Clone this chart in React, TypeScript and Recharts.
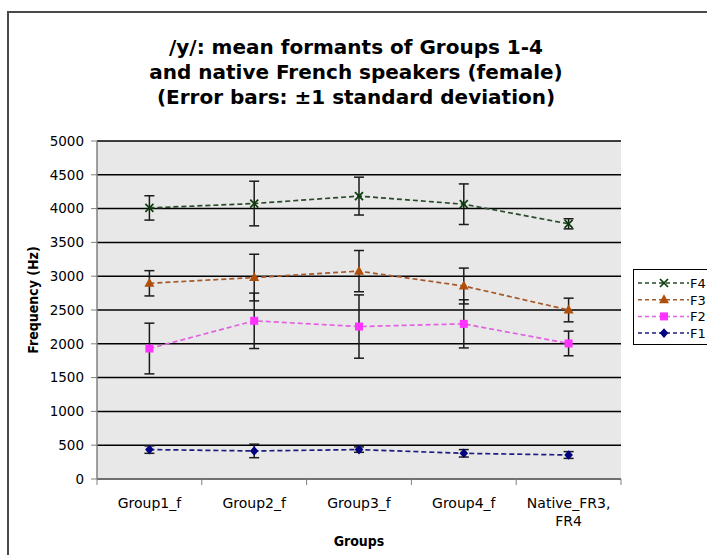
import { LineChart, Line, XAxis, YAxis, CartesianGrid, ErrorBar } from 'recharts';

// groups on the x axis
const groups = ['Group1_f', 'Group2_f', 'Group3_f', 'Group4_f', 'Native_FR3, FR4'];

// mean formant values (Hz) and standard deviations
const f4 = [4010, 4075, 4185, 4065, 3775];
const f4Sd = [180, 330, 280, 300, 75];
const f3 = [2895, 2980, 3075, 2855, 2500];
const f3Sd = [187, 345, 305, 265, 175];
const f2 = [1930, 2340, 2255, 2295, 2005];
const f2Sd = [375, 410, 468, 356, 182];
const f1 = [435, 415, 435, 380, 355];
const f1Sd = [55, 100, 40, 55, 50];

const yTicks = [0, 500, 1000, 1500, 2000, 2500, 3000, 3500, 4000, 4500, 5000];

const data = groups.map((g, i) => ({
  group: g,
  f4: f4[i], f4Sd: f4Sd[i],
  f3: f3[i], f3Sd: f3Sd[i],
  f2: f2[i], f2Sd: f2Sd[i],
  f1: f1[i], f1Sd: f1Sd[i],
}));

const W = 707;
const H = 555;
const PLOT_LEFT = 97;
const PLOT_RIGHT = 621;
const PLOT_TOP = 141;
const PLOT_BOTTOM = 479;
const HALF_BAND = (PLOT_RIGHT - PLOT_LEFT) / groups.length / 2;

const FONT = "'DejaVu Sans', Verdana, sans-serif";
const COND_FONT = "'DejaVu Sans Condensed', 'DejaVu Sans', sans-serif";

const series = [
  { key: 'f4', name: 'F4', line: '#2a4a2a', mark: '#0b3d0b', shape: 'x' },
  { key: 'f3', name: 'F3', line: '#a5582a', mark: '#b04f0a', shape: 'tri' },
  { key: 'f2', name: 'F2', line: '#e062e0', mark: '#ff33ff', shape: 'sq' },
  { key: 'f1', name: 'F1', line: '#1c1c80', mark: '#000080', shape: 'dia' },
];

function Marker({ cx, cy, shape, color }: { cx: number; cy: number; shape: string; color: string }) {
  if (shape === 'x') {
    return (
      <g stroke={color} strokeWidth={1.7}>
        <line x1={cx - 4} y1={cy - 4} x2={cx + 4} y2={cy + 4} />
        <line x1={cx - 4} y1={cy + 4} x2={cx + 4} y2={cy - 4} />
      </g>
    );
  }
  if (shape === 'tri') {
    return <polygon points={`${cx},${cy - 5.5} ${cx + 5},${cy + 3.5} ${cx - 5},${cy + 3.5}`} fill={color} />;
  }
  if (shape === 'sq') {
    return <rect x={cx - 4} y={cy - 4} width={8} height={8} fill={color} />;
  }
  return <polygon points={`${cx},${cy - 4.8} ${cx + 4.3},${cy} ${cx},${cy + 4.8} ${cx - 4.3},${cy}`} fill={color} />;
}

function GroupTick(props: any) {
  const { x, payload, index } = props;
  const lines = String(payload.value).split(/(?<=,)\s/);
  return (
    <g>
      <line x1={x - HALF_BAND} x2={x - HALF_BAND} y1={PLOT_BOTTOM} y2={PLOT_BOTTOM + 6} stroke="#808080" />
      {index === groups.length - 1 && (
        <line x1={x + HALF_BAND} x2={x + HALF_BAND} y1={PLOT_BOTTOM} y2={PLOT_BOTTOM + 6} stroke="#808080" />
      )}
      <text x={x} y={508} textAnchor="middle" fontSize={14} fontFamily={FONT} fill="#000">
        {lines.map((l, i) => (
          <tspan key={i} x={x} dy={i === 0 ? 0 : 18}>{l}</tspan>
        ))}
      </text>
    </g>
  );
}

function LegendBox() {
  return (
    <div
      style={{
        position: 'absolute', left: 633, top: 269, width: 90, height: 76,
        border: '1px solid #000', background: '#fff', boxSizing: 'border-box',
      }}
    >
      <svg width={90} height={76}>
        {series.map((s, i) => {
          const y = 13 + i * 16.7;
          return (
            <g key={s.key}>
              <line x1={4} x2={55} y1={y} y2={y} stroke={s.line} strokeWidth={1.5} strokeDasharray="4 3" />
              <Marker cx={30} cy={y} shape={s.shape} color={s.mark} />
              <text x={56} y={y + 5} fontSize={13} fontFamily={FONT} fill="#000">{s.name}</text>
            </g>
          );
        })}
      </svg>
    </div>
  );
}

export default function App() {
  return (
    <div style={{ position: 'fixed', left: 0, top: 0, width: W, height: H, overflow: 'hidden', background: '#fff' }}>
      {/* outer chart frame, runs past the right and bottom edges */}
      <div style={{ position: 'absolute', left: 7, top: 11, width: 760, height: 620, border: '2px solid #4a4a4a' }} />

      <div
        style={{
          position: 'absolute', left: 0, top: 35, width: 712, textAlign: 'center',
          fontFamily: FONT, fontWeight: 'bold', fontSize: 20, lineHeight: '25px', color: '#000',
        }}
      >
        /y/: mean formants of Groups 1-4
        <br />
        and native French speakers (female)
        <br />
        (Error bars: ±1 standard deviation)
      </div>

      <LineChart
        width={W}
        height={H}
        data={data}
        margin={{ top: PLOT_TOP, right: W - PLOT_RIGHT, bottom: 36, left: 0 }}
        style={{ position: 'absolute', left: 0, top: 0 }}
      >
        <CartesianGrid vertical={false} stroke="#000" strokeWidth={1.5} fill="#e8e8e8" fillOpacity={1} />
        <XAxis
          dataKey="group"
          height={40}
          interval={0}
          padding={{ left: HALF_BAND, right: HALF_BAND }}
          tickLine={false}
          axisLine={{ stroke: '#808080', strokeWidth: 1.5 }}
          tick={<GroupTick />}
        />
        <XAxis xAxisId="top" orientation="top" dataKey="group" height={0} tick={false} tickLine={false} axisLine={{ stroke: '#909090', strokeWidth: 1.5 }} />
        <YAxis
          width={PLOT_LEFT}
          domain={[0, 5000]}
          ticks={yTicks}
          interval={0}
          tickSize={6}
          tickMargin={7}
          tick={{ fontSize: 13.5, fontFamily: FONT, fill: '#000' }}
          tickLine={{ stroke: '#808080' }}
          axisLine={{ stroke: '#808080', strokeWidth: 1.5 }}
        />
        <YAxis yAxisId="right" orientation="right" width={0} domain={[0, 5000]} tick={false} tickLine={false} axisLine={{ stroke: '#909090', strokeWidth: 1.5 }} />
        {[...series].reverse().map((s) => (
          <Line
            key={s.key}
            dataKey={s.key}
            stroke={s.line}
            strokeWidth={1.7}
            strokeDasharray="5 3"
            isAnimationActive={false}
            activeDot={false}
            dot={(p: any) => <Marker key={`${s.key}-${p.index}`} cx={p.cx} cy={p.cy} shape={s.shape} color={s.mark} />}
          >
            <ErrorBar dataKey={`${s.key}Sd`} width={5} stroke="#1a1a1a" strokeWidth={1.5} direction="y" />
          </Line>
        ))}
      </LineChart>

      <div
        style={{
          position: 'absolute', left: 33, top: 300, transform: 'translate(-50%, -50%) rotate(-90deg)',
          fontFamily: COND_FONT, fontWeight: 'bold', fontSize: 14, whiteSpace: 'nowrap', color: '#000',
        }}
      >
        Frequency (Hz)
      </div>
      <div
        style={{
          position: 'absolute', left: 359, top: 541, transform: 'translate(-50%, -50%)',
          fontFamily: COND_FONT, fontWeight: 'bold', fontSize: 14, whiteSpace: 'nowrap', color: '#000',
        }}
      >
        Groups
      </div>

      <LegendBox />
    </div>
  );
}
